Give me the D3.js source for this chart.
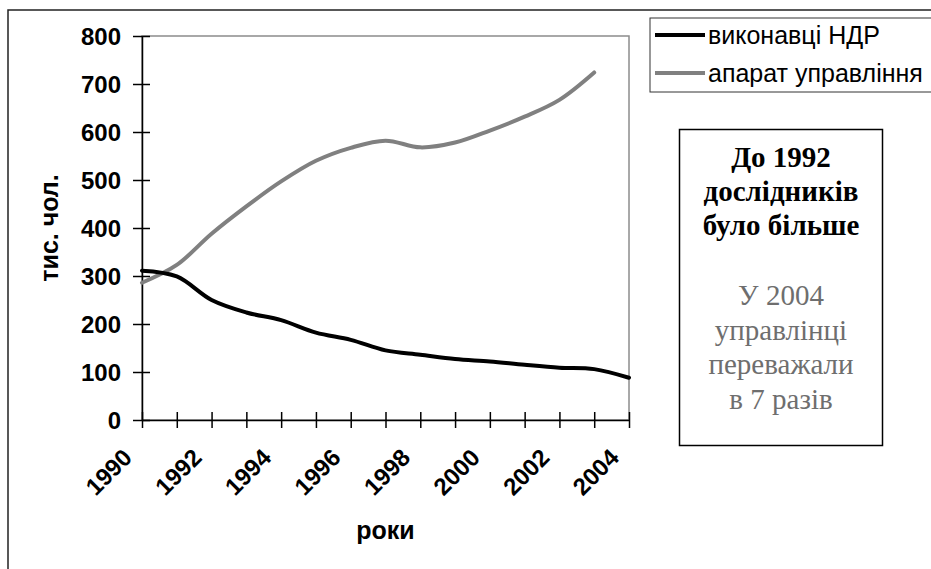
<!DOCTYPE html>
<html>
<script src="https://d3js.org/d3.v7.min.js"></script>

<head>
    <style>
        body {
            margin: 0;
            background-color: #ffffff;
        }

        svg {
            display: block;
            font-family: "Liberation Sans", Arial, Helvetica, sans-serif;
        }

        .axis text {
            font-weight: bold;
            font-size: 24px;
            fill: #000;
        }

        .note {
            font-family: "Liberation Serif", "Times New Roman", serif;
            font-size: 29px;
        }
    </style>
</head>

<body>
    <div id="vis"></div>
</body>
<script>
    // values, thousands of people
    const years = [1990, 1991, 1992, 1993, 1994, 1995, 1996, 1997, 1998, 1999, 2000, 2001, 2002, 2003, 2004];
    const researchers = [311, 299, 250, 224, 208, 182, 167, 145, 136, 127, 122, 115, 109, 106, 88];
    const managers = [286, 323, 388, 445, 497, 540, 567, 582, 568, 578, 603, 632, 667, 724, null];
    const seriesNames = ["виконавці НДР", "апарат управління"];
    const seriesColors = ["#000000", "#808080"];
    const yTicks = [0, 100, 200, 300, 400, 500, 600, 700, 800];
    const xLabelYears = [1990, 1992, 1994, 1996, 1998, 2000, 2002, 2004];
    const yTitle = "тис. чол.";
    const xTitle = "роки";
    const noteBold = ["До 1992", "дослідників", "було більше"];
    const noteGray = ["У 2004", "управлінці", "переважали", "в 7 разів"];

    const width = 931,
        height = 569;
    const plot = { left: 142, right: 629, top: 36, bottom: 420 };

    const svg = d3.select("#vis").append("svg").attr("width", width).attr("height", height);

    const x = d3.scaleLinear().domain([years[0], years[years.length - 1]]).range([plot.left, plot.right]);
    const y = d3.scaleLinear().domain([0, 800]).range([plot.bottom, plot.top]);

    // outer frame (runs off the right and bottom of the picture)
    svg.append("rect")
        .attr("x", 8).attr("y", 10)
        .attr("width", 960).attr("height", 620)
        .attr("fill", "none")
        .attr("stroke", "#222")
        .attr("stroke-width", 1.5);

    // plot border, grey on top and right
    svg.append("rect")
        .attr("x", plot.left).attr("y", plot.top)
        .attr("width", plot.right - plot.left).attr("height", plot.bottom - plot.top)
        .attr("fill", "none")
        .attr("stroke", "#8c8c8c")
        .attr("stroke-width", 1.5);

    const yAxis = svg.append("g")
        .attr("class", "axis")
        .attr("transform", `translate(${plot.left},0)`)
        .call(d3.axisLeft(y).tickValues(yTicks).tickSizeOuter(0).tickSizeInner(9).tickPadding(12));
    yAxis.selectAll(".tick line").attr("x1", 8).attr("stroke-width", 1.5);
    yAxis.select(".domain").attr("stroke-width", 1.5);
    yAxis.selectAll(".tick text").attr("dy", "0.36em");

    const xAxis = svg.append("g")
        .attr("class", "axis")
        .attr("transform", `translate(0,${plot.bottom})`)
        .call(d3.axisBottom(x).tickValues(years).tickSizeOuter(0).tickSizeInner(8)
            .tickFormat(d => xLabelYears.includes(d) ? String(d) : ""));
    xAxis.selectAll(".tick line").attr("y1", -8).attr("stroke-width", 1.5);
    xAxis.select(".domain").attr("stroke-width", 1.5);
    xAxis.selectAll(".tick text")
        .attr("x", 0).attr("y", 0).attr("dy", null)
        .attr("font-size", 25)
        .attr("text-anchor", "end")
        .attr("transform", "translate(-9,39) rotate(-45)");

    // axis titles
    svg.append("text")
        .attr("transform", `translate(58,${(plot.top + plot.bottom) / 2}) rotate(-90)`)
        .attr("text-anchor", "middle")
        .attr("font-weight", "bold")
        .attr("font-size", 25)
        .text(yTitle);
    svg.append("text")
        .attr("x", (plot.left + plot.right) / 2)
        .attr("y", 539)
        .attr("text-anchor", "middle")
        .attr("font-weight", "bold")
        .attr("font-size", 25)
        .text(xTitle);

    // lines
    const series = [researchers, managers];
    const line = d3.line()
        .defined(d => d != null)
        .x((d, i) => x(years[i]))
        .y(d => y(d))
        .curve(d3.curveCatmullRom.alpha(0.5));
    // grey drawn first, black on top
    [1, 0].forEach(k => {
        svg.append("path")
            .datum(series[k])
            .attr("d", line)
            .attr("fill", "none")
            .attr("stroke", seriesColors[k])
            .attr("stroke-width", 4)
            .attr("stroke-linejoin", "round")
            .attr("stroke-linecap", "round");
    });

    // legend
    const legend = svg.append("g");
    legend.append("rect")
        .attr("x", 650).attr("y", 18)
        .attr("width", 300).attr("height", 74)
        .attr("fill", "#fff")
        .attr("stroke", "#333")
        .attr("stroke-width", 1);
    seriesNames.forEach((name, i) => {
        const ly = 35 + i * 38;
        legend.append("line")
            .attr("x1", 655).attr("x2", 705)
            .attr("y1", ly).attr("y2", ly)
            .attr("stroke", seriesColors[i])
            .attr("stroke-width", 4);
        legend.append("text")
            .attr("x", 708)
            .attr("y", ly + 9)
            .attr("font-size", 25)
            .text(name);
    });

    // note box
    svg.append("rect")
        .attr("x", 679.5).attr("y", 129.5)
        .attr("width", 203).attr("height", 316)
        .attr("fill", "#fff")
        .attr("stroke", "#000")
        .attr("stroke-width", 1.5);
    const noteX = 781;
    svg.selectAll(".noteBold")
        .data(noteBold)
        .join("text")
        .attr("class", "note noteBold")
        .attr("x", noteX)
        .attr("y", (d, i) => 167 + i * 34)
        .attr("text-anchor", "middle")
        .attr("font-weight", "bold")
        .attr("fill", "#000")
        .text(d => d);
    svg.selectAll(".noteGray")
        .data(noteGray)
        .join("text")
        .attr("class", "note noteGray")
        .attr("x", noteX)
        .attr("y", (d, i) => 305 + i * 34.5)
        .attr("text-anchor", "middle")
        .attr("fill", "#6e6e6e")
        .text(d => d);
</script>

</html>
